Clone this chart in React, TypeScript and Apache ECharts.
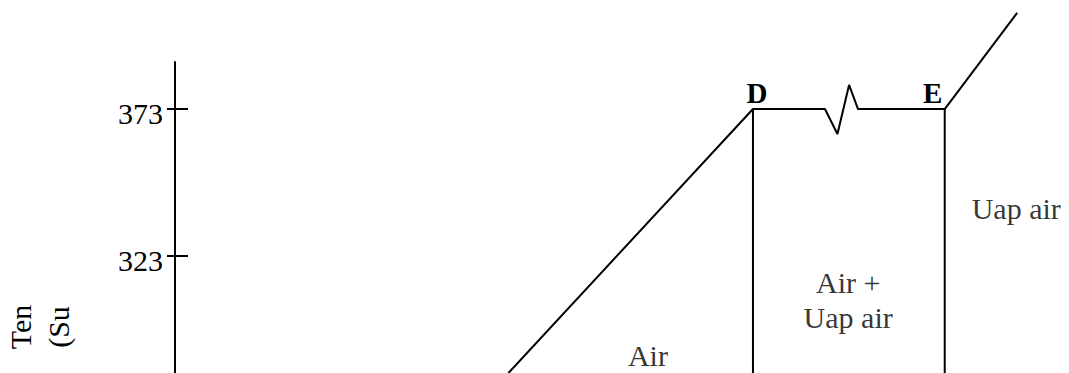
import React, { useEffect, useRef } from "react";
import * as echarts from "echarts";

// Temperature axis (K)
const yTicks = [323, 373];
const yMin = 283.2;
const yMax = 389;
const xMin = 0;
const xMax = 100;

// Heating curve: [heat, temperature]
const curveHeat = [37.3, 64.65, 72.7, 74.1, 75.4, 76.4, 86.1, 94.2];
const curveTemp = [283.2, 373, 373, 364.5, 381.2, 373, 373, 405.7];
const pointNames = ["", "D", "", "", "", "", "E", ""];

// Vertical phase-boundary lines
const boundaryHeat = [64.65, 86.1];

// Phase region labels
const regionNames = ["Air", "Air +\nUap air", "Uap air"];
const regionHeat = [52.9, 75.3, 94.1];
const regionTemp = [289.3, 308, 339];

const axisName = "Ten\n(Su";

const FONT = "'Liberation Serif', 'Times New Roman', serif";

export default function App() {
  const ref = useRef<HTMLDivElement>(null);
  useEffect(() => {
    if (!ref.current) return;
    const chart = echarts.init(ref.current, undefined, { renderer: "svg" });
    const curve = curveHeat.map((h, i) => ({
      value: [h, curveTemp[i]],
      label: pointNames[i]
        ? {
            show: true,
            formatter: pointNames[i],
            position: "top",
            distance: 2,
            offset: pointNames[i] === "D" ? [4, 0] : [-12, 0],
            fontFamily: FONT,
            fontSize: 29,
            fontWeight: "bold",
            color: "#000",
          }
        : { show: false },
    }));
    const lineStyle = { color: "#000", width: 2 };
    chart.setOption({
      animation: false,
      grid: { left: 175, right: 0, top: 62, bottom: 0 },
      xAxis: { type: "value", min: xMin, max: xMax, show: false },
      yAxis: [
        {
          type: "value",
          min: yMin,
          max: yMax,
          splitLine: { show: false },
          axisLine: { show: true, lineStyle: { color: "#000", width: 2 } },
          axisTick: {
            show: true,
            inside: true,
            length: 13,
            customValues: yTicks,
            lineStyle: { color: "#000", width: 2 },
          },
          axisLabel: {
            show: true,
            customValues: yTicks,
            margin: 12,
            formatter: (v: number) => `{v|${v}}`,
            rich: {
              v: {
                padding: [8, 0, 0, 0],
                fontFamily: FONT,
                fontSize: 30,
                color: "#000",
              },
            },
            fontFamily: FONT,
            fontSize: 30,
            color: "#000",
          },
        },
        {
          type: "value",
          min: yMin,
          max: yMax,
          position: "left",
          splitLine: { show: false },
          axisLine: { show: false },
          axisTick: {
            show: true,
            inside: false,
            length: 8,
            customValues: yTicks,
            lineStyle: { color: "#000", width: 2 },
          },
          axisLabel: { show: false },
        },
      ],
      graphic: [
        {
          type: "text",
          x: 39,
          y: 327,
          rotation: Math.PI / 2,
          style: {
            text: axisName,
            font: `30px ${FONT}`,
            fill: "#000",
            align: "center",
            verticalAlign: "middle",
            lineHeight: 38,
          },
        },
      ],
      series: [
        {
          type: "line",
          data: curve,
          clip: false,
          symbol: "circle",
          symbolSize: 0,
          showSymbol: true,
          showAllSymbol: true,
          itemStyle: { color: "#000" },
          lineStyle,
          silent: true,
        },
        ...boundaryHeat.map((h) => ({
          type: "line",
          data: [
            [h, curveTemp[1]],
            [h, yMin],
          ],
          symbol: "none",
          lineStyle,
          silent: true,
        })),
        {
          type: "scatter",
          symbolSize: 0,
          itemStyle: { color: "#000" },
          data: regionNames.map((n, i) => ({ name: n, value: [regionHeat[i], regionTemp[i]] })),
          label: {
            show: true,
            position: "inside",
            formatter: (p: any) => p.name,
            fontFamily: FONT,
            fontSize: 30,
            lineHeight: 35,
            color: "#000",
            textBorderWidth: 0,
            align: "center",
          },
          silent: true,
        },
      ],
    });
    return () => chart.dispose();
  }, []);
  return (
    <div
      ref={ref}
      style={{ position: "absolute", left: 0, top: 0, width: 1069, height: 373, background: "#fff" }}
    />
  );
}
